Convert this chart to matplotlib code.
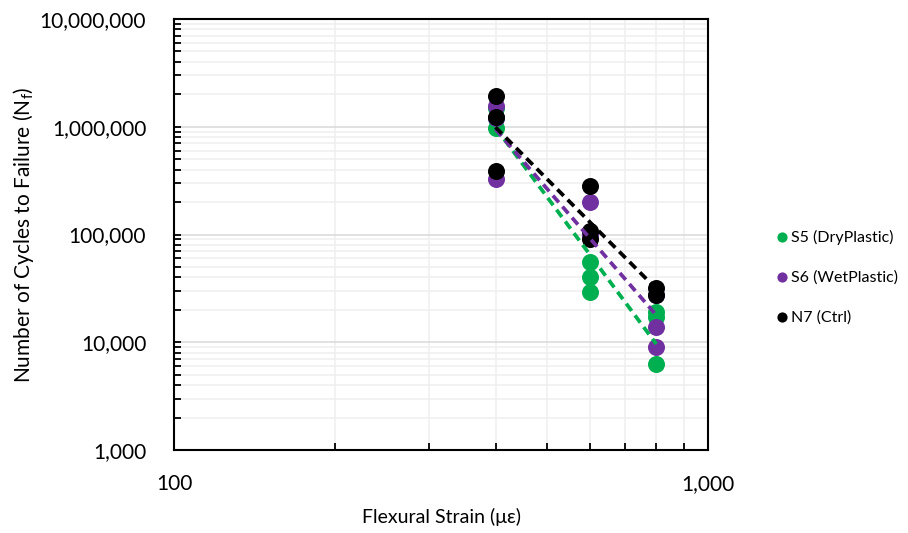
import numpy as np
import matplotlib
matplotlib.use("Agg")
import matplotlib.pyplot as plt
from matplotlib.ticker import FuncFormatter, LogLocator, NullFormatter

plt.rcParams['font.family'] = ['Lato', 'DejaVu Sans']

# Data (strain in microstrain, cycles to failure)
s5_strain = [400, 400, 400, 600, 600, 600, 800, 800, 800]
s5_cycles = [1500000, 1200000, 970000, 55000, 40600, 29500, 19200, 17300, 6300]

s6_strain = [400, 400, 400, 600, 600, 800, 800, 800]
s6_cycles = [1550000, 1200000, 325000, 199000, 100000, 27700, 13900, 9100]

n7_strain = [400, 400, 400, 600, 600, 600, 800, 800]
n7_cycles = [1920000, 1220000, 385000, 280000, 107000, 90000, 32000, 27700]

series = [
    ("S5 (DryPlastic)", s5_strain, s5_cycles, "#00B050"),
    ("S6 (WetPlastic)", s6_strain, s6_cycles, "#7030A0"),
    ("N7 (Ctrl)", n7_strain, n7_cycles, "#000000"),
]

fig = plt.figure(figsize=(9.08, 5.33), dpi=100)
ax = fig.add_axes([174/908, 1-450/533, (708-174)/908, (450-19)/533])

ax.set_xscale('log')
ax.set_yscale('log')
ax.set_xlim(100, 1000)
ax.set_ylim(1000, 10000000)

handles = []
for i, (name, xs, ys, col) in enumerate(series):
    h = ax.scatter(xs, ys, s=150, color=col, zorder=3 + i, linewidths=0, label=name)
    handles.append(h)

for i, (name, xs, ys, col) in enumerate(series):
    lx = np.log10(xs)
    ly = np.log10(ys)
    b, a = np.polyfit(lx, ly, 1)
    xx = np.array([min(xs), max(xs)])
    yy = 10 ** (a + b * np.log10(xx))
    ax.plot(xx, yy, color=col, lw=2.7, linestyle=(0, (2.4, 1.5)), zorder=7 + i,
            solid_capstyle='butt', dash_capstyle='butt')

ax.yaxis.set_major_locator(LogLocator(base=10, numticks=10))
ax.yaxis.set_minor_locator(LogLocator(base=10, subs=np.arange(2, 10), numticks=10))
ax.xaxis.set_major_locator(LogLocator(base=10, numticks=10))
ax.xaxis.set_minor_locator(LogLocator(base=10, subs=np.arange(2, 10), numticks=10))
fmt = FuncFormatter(lambda v, p: f"{int(round(v)):,}")
ax.yaxis.set_major_formatter(fmt)
ax.xaxis.set_major_formatter(fmt)
ax.xaxis.set_minor_formatter(NullFormatter())
ax.yaxis.set_minor_formatter(NullFormatter())

ax.grid(which='major', color='#d9d9d9', lw=1.1, zorder=0)
ax.grid(which='minor', color='#efefef', lw=1.1, zorder=0)
ax.set_axisbelow(True)

for sp in ax.spines.values():
    sp.set_color('black')
    sp.set_linewidth(1.5)

ax.tick_params(axis='both', which='both', direction='in', color='black', width=1.3)
ax.tick_params(axis='both', which='major', length=5, labelsize=15)
ax.tick_params(axis='both', which='minor', length=5)
ax.tick_params(axis='y', which='major', pad=20)
ax.tick_params(axis='x', which='major', pad=17)
ax.tick_params(top=False, right=False, which='both')

ax.set_xlabel("Flexural Strain (\u03bc\u03b5)", fontsize=14, labelpad=10)
ax.set_ylabel("Number of Cycles to Failure (N$_\\mathregular{f}$)", fontsize=15, va='center')
ax.yaxis.set_label_coords((24 - 174) / (708 - 174), 0.5)

leg = fig.legend(handles=handles, loc='center left', bbox_to_anchor=(764/908, 1-277/533),
                 frameon=False, fontsize=11.5, handletextpad=-0.1, labelspacing=1.6,
                 markerscale=0.6, scatterpoints=1, borderpad=0, handlelength=1.3)

fig.savefig("out.png", dpi=100)
